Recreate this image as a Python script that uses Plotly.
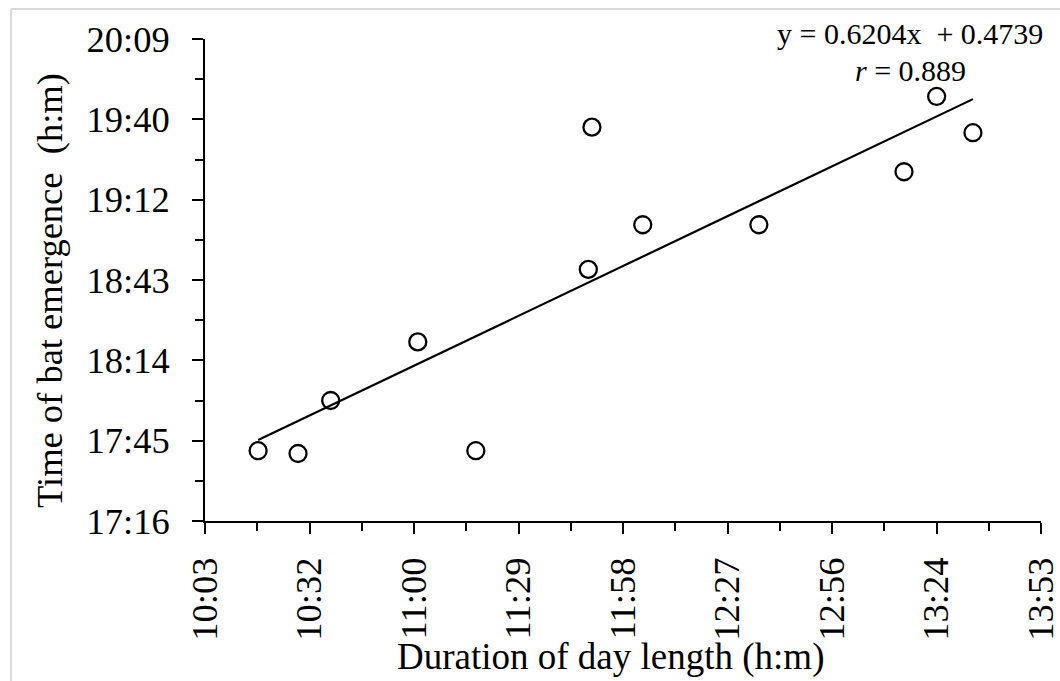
import plotly.graph_objects as go

# ---- data (h:m) ----
day_length = ["10:18", "10:29", "10:38", "11:02", "11:18", "11:49",
              "11:50", "12:04", "12:36", "13:16", "13:25", "13:35"]
emergence = ["17:42", "17:41", "18:00", "18:21", "17:42", "18:47",
             "19:38", "19:03", "19:03", "19:22", "19:49", "19:36"]

x_tick_labels = ["10:03", "10:32", "11:00", "11:29", "11:58", "12:27", "12:56", "13:24", "13:53"]
y_tick_labels = ["17:16", "17:45", "18:14", "18:43", "19:12", "19:40", "20:09"]
x_tick_vals = [0.419, 0.439, 0.459, 0.479, 0.499, 0.519, 0.539, 0.559, 0.579]
y_tick_vals = [0.72, 0.74, 0.76, 0.78, 0.80, 0.82, 0.84]

slope = 0.6204
intercept = 0.4739
r_value = "0.889"


def to_day(hm):
    h, m = hm.split(":")
    return (int(h) * 60 + int(m)) / 1440.0


xs = [to_day(v) for v in day_length]
ys = [to_day(v) for v in emergence]

W, H = 1060, 681
ML, MR, MT, MB = 205, 19, 39, 160
PW, PH = W - ML - MR, H - MT - MB


def px_x(p):
    return (p - ML) / PW


def px_y(p):
    return (H - MB - p) / PH


FONT = "Liberation Serif"
TICK_SIZE = 36.5
TITLE_SIZE = 37

fig = go.Figure()

x0, x1 = min(xs), max(xs)
fig.add_trace(go.Scatter(
    x=[x0, x1], y=[slope * x0 + intercept, slope * x1 + intercept],
    mode="lines", line=dict(color="black", width=2.2), showlegend=False,
    hoverinfo="skip"))

fig.add_trace(go.Scatter(
    x=xs, y=ys, mode="markers", showlegend=False,
    marker=dict(symbol="circle-open", size=17, color="black",
                line=dict(color="black", width=2.3))))

axis_common = dict(
    showgrid=False, zeroline=False, showline=True, linecolor="black",
    linewidth=2, ticks="outside", ticklen=11, tickwidth=2, tickcolor="black",
    automargin=False,
    tickfont=dict(family=FONT, size=TICK_SIZE, color="black"),
)

fig.update_xaxes(
    **axis_common, range=[0.419, 0.579], tickvals=x_tick_vals,
    ticktext=x_tick_labels, tickangle=-90, ticklabelstandoff=9,
    ticklabeloverflow="allow",
    minor=dict(tickvals=[v + 0.01 for v in x_tick_vals[:-1]], ticks="outside",
               ticklen=8, tickwidth=2, tickcolor="black"),
)
fig.update_yaxes(
    **axis_common, range=[0.72, 0.84], tickvals=y_tick_vals,
    ticktext=y_tick_labels, ticklabelstandoff=15,
    minor=dict(tickvals=[v + 0.01 for v in y_tick_vals[:-1]], ticks="outside",
               ticklen=8, tickwidth=2, tickcolor="black"),
)

# axis titles
fig.add_annotation(x=px_x(610), y=px_y(657), xref="paper", yref="paper",
                   text="Duration of day length (h:m)", showarrow=False,
                   xanchor="center", yanchor="middle",
                   font=dict(family=FONT, size=TITLE_SIZE, color="black"))
fig.add_annotation(x=px_x(49), y=px_y(291), xref="paper", yref="paper",
                   text="Time of bat emergence  (h:m)", showarrow=False,
                   textangle=-90, xanchor="center", yanchor="middle",
                   font=dict(family=FONT, size=36.5, color="black"))

# regression text
fig.add_annotation(x=px_x(910), y=px_y(33), xref="paper", yref="paper",
                   text="y = 0.6204x  + 0.4739", showarrow=False,
                   xanchor="center", yanchor="middle",
                   font=dict(family=FONT, size=30, color="black"))
fig.add_annotation(x=px_x(910), y=px_y(70), xref="paper", yref="paper",
                   text="<i>r</i> = " + r_value, showarrow=False,
                   xanchor="center", yanchor="middle",
                   font=dict(family=FONT, size=30, color="black"))

# light gray outer frame
fig.add_shape(type="line", xref="paper", yref="paper",
              x0=px_x(11), x1=px_x(1070), y0=px_y(9), y1=px_y(9),
              line=dict(color="#d9d9d9", width=2))
fig.add_shape(type="line", xref="paper", yref="paper",
              x0=px_x(11), x1=px_x(11), y0=px_y(9), y1=px_y(700),
              line=dict(color="#d9d9d9", width=2))

fig.update_layout(
    width=W, height=H, margin=dict(l=ML, r=MR, t=MT, b=MB, autoexpand=False),
    plot_bgcolor="white", paper_bgcolor="white",
    font=dict(family=FONT, color="black"),
)

fig.write_html("out.html")
